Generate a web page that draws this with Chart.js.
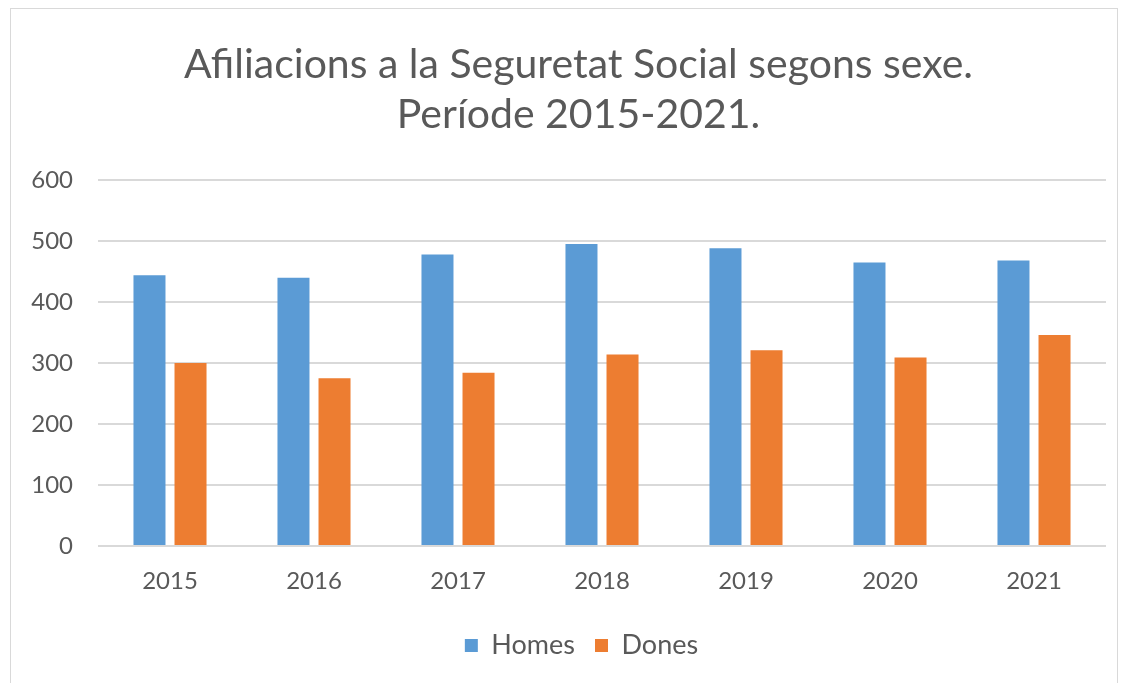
<!DOCTYPE html>
<html>
<head>
<meta charset="utf-8">
<script src="https://cdn.jsdelivr.net/npm/chart.js@4/dist/chart.umd.min.js"></script>
<style>
    html, body { margin: 0; padding: 0; background: #fff; overflow: hidden; }
    .frame {
        position: absolute;
        left: 10px;
        top: 8px;
        width: 1108px;
        height: 700px;
        border: 1px solid #d9d9d9;
        box-sizing: border-box;
    }
    canvas { display: block; }
</style>
</head>
<body>
<div class="frame">
    <canvas id="afiliacions-chart" width="1106" height="674"></canvas>
</div>
<script>
const years = ['2015', '2016', '2017', '2018', '2019', '2020', '2021'];
const homes = [444, 440, 478, 495, 488, 465, 468];
const dones = [300, 275, 284, 314, 321, 309, 346];
const titleLines = ['Afiliacions a la Seguretat Social segons sexe.', 'Període 2015-2021.'];

const textColor = '#595959';
const gridColor = '#d9d9d9';
const fontFamily = 'Lato, "Liberation Sans", sans-serif';

// title and legend sit a bit right of the canvas centre in the original
const shiftBlocks = {
    id: 'shiftBlocks',
    afterLayout(chart) {
        if (chart.titleBlock) {
            chart.titleBlock.left += 20;
            chart.titleBlock.right += 20;
        }
        if (chart.legend) {
            chart.legend.left += 23;
            chart.legend.right += 23;
        }
    }
};

new Chart(document.getElementById('afiliacions-chart'), {
    type: 'bar',
    data: {
        labels: years,
        datasets: [
            {
                label: 'Homes',
                data: homes,
                backgroundColor: '#5b9bd5',
                borderWidth: 0,
                categoryPercentage: 0.57,
                barPercentage: 0.78
            },
            {
                label: 'Dones',
                data: dones,
                backgroundColor: '#ed7d31',
                borderWidth: 0,
                categoryPercentage: 0.57,
                barPercentage: 0.78
            }
        ]
    },
    options: {
        responsive: false,
        animation: false,
        layout: {
            padding: { left: 0, right: 11, top: 0, bottom: 14 }
        },
        scales: {
            x: {
                grid: { display: false, drawTicks: false },
                border: { display: false },
                ticks: {
                    color: textColor,
                    font: { family: fontFamily, size: 24 },
                    padding: 21
                },
                afterFit: (scale) => { scale.height = 66; }
            },
            y: {
                min: 0,
                max: 600,
                ticks: {
                    stepSize: 100,
                    color: textColor,
                    font: { family: fontFamily, size: 24 },
                    padding: 25
                },
                grid: { color: gridColor, lineWidth: 2, drawTicks: false },
                border: { display: false },
                afterFit: (scale) => { scale.width = 87; }
            }
        },
        plugins: {
            title: {
                display: true,
                text: titleLines,
                color: textColor,
                font: { family: fontFamily, size: 41, weight: 'normal', lineHeight: 1.22 },
                padding: { top: 31, bottom: 40 }
            },
            legend: {
                position: 'bottom',
                labels: {
                    color: textColor,
                    font: { family: fontFamily, size: 27 },
                    boxWidth: 13,
                    boxHeight: 13,
                    padding: 20
                }
            },
            tooltip: { enabled: false }
        }
    },
    plugins: [shiftBlocks]
});
</script>
</body>
</html>
